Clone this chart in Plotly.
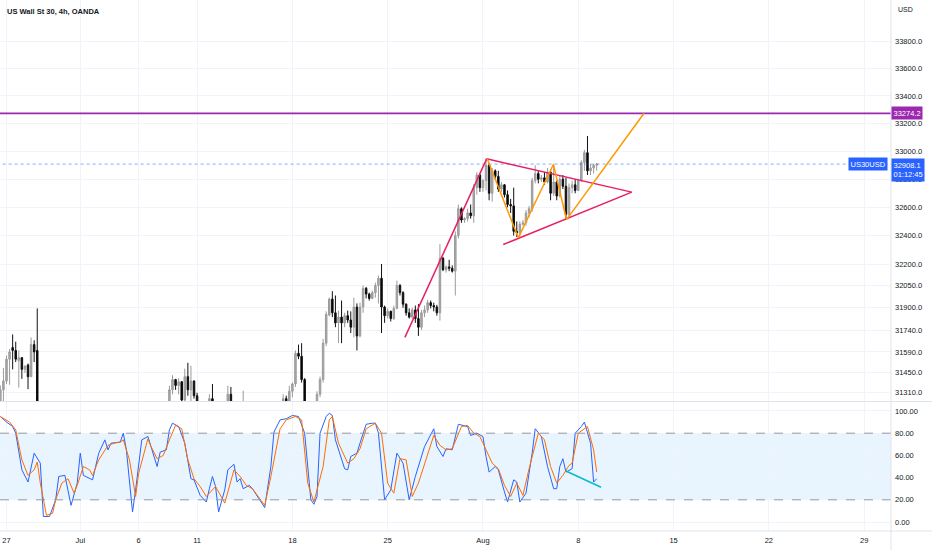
import datetime as dt
import math
import plotly.graph_objects as go

# ---------------- data ----------------
title_text = "US Wall St 30, 4h, OANDA"
symbol = "US30USD"
last_price = 32908.1
countdown = "01:12:45"
level_price = 33274.2
first_bar = dt.datetime(2022, 6, 24, 20)   # first candle on the chart (4h bars)

N = None
open_ = ([31180, 31330, 31390, 31540, 31620, 31600, 31530, 31550, 31470, 31500, 31420, 31640, 31600]
         + [N] * 42
         + [31210, 31330, 31400, 31360, 31385, 31260, 31420, 31330, 31390, 31290]
         + [N] * 3 + [31200, 31270] + [N] * 4 + [31200, 31300] + [N] * 3 + [31180] + [N] * 12
         + [31200, 31270, 31250, 31320, 31370, 31580, 31560, 31400] + [N] * 3
         + [31200, 31300, 31400, 31650, 31845, 31955, 31860, 31790, 31830, 31790,
            31840, 31810, 31760, 31900, 31700, 31900,
            32030, 31990, 31960, 32000, 32050, 32100, 31900,
            31840, 31870, 31820, 31890, 32050, 32000,
            31920, 31860, 31830, 31880, 31820, 31760,
            31860, 31880, 31930, 31910, 31900, 31860,
            32240, 32160, 32180, 32170, 32150, 32400,
            32590, 32510, 32520, 32560, 32540, 32740, 32830,
            32740, 32790, 32900, 32700, 32860, 32820,
            32730, 32760, 32690, 32620, 32610, 32430,
            32420, 32480, 32490, 32560, 32590, 32790,
            32840, 32800, 32810, 32780, 32850, 32700,
            32780, 32680, 32800, 32750, 32550, 32740, 32760,
            32720, 32790, 32920, 32990, 32860, 32880,
            32900])
high = ([31360, 31480, 31565, 31610, 31710, 31660, 31600, 31555, 31500, 31510, 31690, 31670, 31890]
        + [N] * 42
        + [31358, 31430, 31405, 31410, 31390, 31475, 31515, 31495, 31395, 31310]
        + [N] * 3 + [31300, 31370] + [N] * 4 + [31358, 31350] + [N] * 3 + [31324] + [N] * 12
        + [31300, 31290, 31358, 31380, 31600, 31640, 31650, 31410] + [N] * 3
        + [31320, 31420, 31680, 31870, 31965, 32010, 31980, 31875, 31945, 31860,
           31875, 31870, 31965, 31925, 31930, 32050,
           32040, 32000, 32014, 32070, 32120, 32200, 31910,
           31890, 31875, 31910, 32084, 32060, 32010,
           31925, 31890, 31895, 31910, 31920, 31880,
           31910, 31950, 31945, 31930, 31915, 32340,
           32250, 32190, 32230, 32190, 32430, 32620,
           32600, 32530, 32590, 32620, 32765, 32850, 32840,
           32800, 32950, 32915, 32880, 32870, 32860,
           32780, 32765, 32720, 32660, 32740, 32500,
           32500, 32510, 32580, 32610, 32810, 32900,
           32860, 32830, 32850, 32880, 32870, 32910,
           32790, 32830, 32830, 32810, 32770, 32790, 32800,
           32800, 32935, 33010, 33110, 32910, 32910,
           32915])
low = ([31150, 31240, 31370, 31365, 31470, 31520, 31345, 31405, 31445, 31335, 31420, 31520, 31100]
       + [N] * 42
       + [31190, 31300, 31330, 31300, 31220, 31230, 31290, 31240, 31270, 31200]
       + [N] * 3 + [31150, 31200] + [N] * 4 + [31150, 31200] + [N] * 3 + [31150] + [N] * 12
       + [31150, 31200, 31240, 31280, 31350, 31540, 31380, 31180] + [N] * 3
       + [31150, 31280, 31380, 31630, 31835, 31830, 31760, 31650, 31650, 31760,
          31790, 31720, 31690, 31600, 31690, 31860,
          31960, 31945, 31955, 31965, 31925, 31720, 31790,
          31820, 31800, 31810, 31885, 31980, 31895,
          31840, 31820, 31820, 31790, 31700, 31740,
          31830, 31860, 31890, 31870, 31840, 31806,
          32150, 32140, 32150, 32140, 31980, 32380,
          32490, 32490, 32500, 32520, 32490, 32690, 32710,
          32710, 32720, 32650, 32640, 32800, 32710,
          32710, 32670, 32600, 32560, 32400, 32390,
          32395, 32470, 32470, 32530, 32570, 32770,
          32770, 32780, 32760, 32770, 32650, 32680,
          32650, 32670, 32730, 32510, 32520, 32700, 32700,
          32715, 32780, 32860, 32830, 32830, 32840,
          32860])
close = ([31330, 31390, 31540, 31590, 31600, 31540, 31550, 31470, 31490, 31420, 31640, 31590, 31150]
         + [N] * 42
         + [31330, 31400, 31360, 31385, 31260, 31420, 31330, 31390, 31290, 31220]
         + [N] * 3 + [31270, 31240] + [N] * 4 + [31300, 31230] + [N] * 3 + [31220] + [N] * 12
         + [31270, 31250, 31320, 31370, 31580, 31560, 31400, 31220] + [N] * 3
         + [31300, 31400, 31650, 31850, 31955, 31860, 31790, 31830, 31790, 31840,
            31810, 31760, 31900, 31700, 31900, 32030,
            31990, 31960, 32000, 32050, 32100, 31900, 31840,
            31870, 31820, 31890, 32050, 32000, 31920,
            31860, 31830, 31880, 31820, 31760, 31860,
            31880, 31930, 31910, 31900, 31860, 32240,
            32160, 32180, 32170, 32150, 32400, 32590,
            32510, 32520, 32560, 32540, 32740, 32830, 32740,
            32790, 32900, 32700, 32860, 32820, 32730,
            32760, 32690, 32620, 32610, 32430, 32420,
            32480, 32490, 32560, 32590, 32790, 32840,
            32800, 32810, 32780, 32850, 32700, 32780,
            32680, 32800, 32750, 32550, 32740, 32760, 32720,
            32790, 32920, 32990, 32860, 32880, 32900,
            32908.1])

# Stochastic readings (bar number counted from 27 Jun 00:00, value)
k_bar = [-2, 0, 2, 3, 5, 7, 9, 11, 12, 14, 16, 17, 19, 21, 23, 24, 25, 28, 30, 32, 33, 34, 37, 38, 39,
         41, 42, 44, 46, 48, 49, 50, 52, 53, 54, 56, 58, 60, 61, 63, 65, 66, 67, 68, 69, 71, 72, 74,
         75, 76, 77, 79, 80, 84, 86, 87, 89, 91, 93, 95, 97, 99, 100, 101, 102, 104, 105, 106, 107,
         110, 111, 112, 114, 115, 117, 119, 120, 121, 123, 125, 127, 129, 131, 133, 136, 139, 140,
         142, 143, 145, 147, 150, 151, 153, 155, 156, 157, 159, 160, 162, 163, 165, 166, 167, 169,
         171, 172, 174, 176, 178, 179, 180, 181, 182, 184, 185, 187, 188, 190, 191, 192]
k_val = [95, 90, 86, 80, 47, 36, 62, 53, 5, 5, 20, 41, 42, 15, 35, 62, 42, 38, 62, 74, 65, 71, 72, 80, 65,
         9, 29, 74, 77, 60, 50, 63, 65, 83, 89, 86, 71, 39, 38, 24, 18, 30, 41, 32, 9, 29, 47, 52,
         36, 39, 30, 33, 30, 13, 50, 81, 92, 93, 96, 95, 80, 20, 16, 23, 80, 95, 98, 96, 74,
         48, 47, 59, 62, 71, 88, 89, 89, 80, 20, 29, 62, 53, 20, 41, 68, 84, 68,
         59, 66, 65, 88, 86, 78, 80, 77, 59, 45, 50, 47, 27, 18, 38, 36, 18, 26,
         62, 84, 77, 50, 30, 30, 50, 57, 45, 48, 80, 86, 90, 71, 36, 39]
d_bar = [-2, 1, 3, 5, 7, 9, 10, 11, 13, 15, 16, 18, 20, 22, 23, 25, 27, 28, 30, 33, 35, 37, 38, 40, 42,
         43, 46, 47, 49, 51, 53, 55, 57, 59, 61, 63, 65, 67, 68, 71, 73, 74, 76, 78, 80, 84, 86, 89,
         91, 94, 96, 98, 100, 103, 105, 106, 108, 111, 113, 115, 117, 120, 122, 124, 126, 128, 130,
         132, 134, 137, 139, 141, 143, 145, 148, 150, 152, 154, 156, 158, 160, 162, 164, 166, 168,
         170, 173, 175, 177, 179, 181, 183, 184, 186, 189, 191, 192]
d_val = [95, 90, 83, 56, 42, 47, 54, 35, 6, 8, 20, 35, 39, 26, 33, 50, 47, 42, 56, 69, 71, 72, 74, 56, 23,
         44, 75, 68, 57, 60, 74, 87, 84, 56, 39, 32, 23, 29, 32, 17, 38, 47, 41, 33, 30, 15, 41, 84,
         92, 95, 92, 35, 18, 50, 92, 95, 71, 53, 57, 66, 84, 89, 80, 35, 26, 57, 56,
         23, 35, 60, 78, 69, 65, 66, 86, 87, 80, 77, 65, 53, 48, 33, 23, 35, 24,
         48, 80, 74, 50, 35, 42, 51, 53, 80, 86, 65, 45]

# Drawings: (bar number, price) anchors
rise_line = ([129.6, 156.2], [31690, 32946])
tri_upper = ([156.2, 203.4], [32946, 32708])
tri_lower = ([161.6, 203.4], [32337, 32708])
zigzag = ([156.4, 166.5, 177.9, 182.2, 207.4], [32946, 32384, 32905, 32513, 33274.2])
stoch_div = ([182.0, 193.4], [45.9, 31.3])

price_ticks = [31310, 31450, 31590, 31740, 31900, 32050, 32200, 32400, 32600, 32800,
               33000, 33200, 33400, 33600, 33800]
stoch_ticks = [0, 20, 40, 60, 80, 100]
tick_dates = ["2022-06-27", "2022-07-01", "2022-07-06", "2022-07-11", "2022-07-18", "2022-07-25",
              "2022-08-01", "2022-08-08", "2022-08-15", "2022-08-22", "2022-08-29"]
tick_text = ["27", "Jul", "6", "11", "18", "25", "Aug", "8", "15", "22", "29"]

# ---------------- time scale (4h session bars, weekends removed) ----------------
def session_bars(start, end):
    out, d = [], start
    while d <= end:
        wd = d.weekday()
        if wd == 6:
            out.append(dt.datetime(d.year, d.month, d.day, 20))
        elif wd < 5:
            out.extend(dt.datetime(d.year, d.month, d.day, h) for h in range(0, 24, 4))
        d += dt.timedelta(days=1)
    return out

bars = session_bars(dt.date(2022, 6, 20), dt.date(2022, 9, 5))
origin = bars.index(dt.datetime(2022, 6, 27, 0))
def pos(t):
    return bars.index(t) - origin

x0 = pos(first_bar)
xs = [x0 + i for i in range(len(open_))]
tick_pos = [pos(dt.datetime.strptime(s, "%Y-%m-%d")) for s in tick_dates]

# ---------------- figure ----------------
W, H = 932, 550
ML, MR, MT, MB = 0, 41, 0, 19
PH = H - MT - MB
price_dom = [(PH - 401) / PH, 1]
stoch_dom = [0, (PH - 402) / PH]
x_range = [-2.115, 287.74]
p_range = [math.log10(31254), math.log10(34105)]
s_range = [-8.1, 108.1]

FONT = "Liberation Sans Narrow, Liberation Sans, Arial, sans-serif"
TXT = "#131722"
GRID = "#f0f3fa"
BORDER = "#e0e3eb"

fig = go.Figure()

# horizontal level and last-price line
fig.add_trace(go.Scatter(x=[x_range[0] - 5, x_range[1] + 5], y=[level_price, level_price],
                         mode="lines", line=dict(color="#9c27b0", width=1.8),
                         xaxis="x", yaxis="y", hoverinfo="skip", showlegend=False))
fig.add_trace(go.Scatter(x=[x_range[0] - 5, x_range[1] + 5], y=[last_price, last_price],
                         mode="lines", line=dict(color="rgba(41,98,255,0.55)", width=1, dash="dot"),
                         xaxis="x", yaxis="y", hoverinfo="skip", showlegend=False))

fig.add_trace(go.Candlestick(
    x=xs, open=open_, high=high, low=low, close=close,
    increasing=dict(line=dict(color="#9b9b9b", width=1), fillcolor="#a9a9a9"),
    decreasing=dict(line=dict(color="#111111", width=1), fillcolor="#000000"),
    whiskerwidth=0, xaxis="x", yaxis="y", hoverinfo="skip", showlegend=False))

for (lx, ly), col in [(rise_line, "#e91e63"), (tri_upper, "#e91e63"), (tri_lower, "#e91e63"),
                      (zigzag, "#ff9800")]:
    fig.add_trace(go.Scatter(x=lx, y=ly, mode="lines", line=dict(color=col, width=1.5),
                             xaxis="x", yaxis="y", hoverinfo="skip", showlegend=False))

# stochastic
fig.add_trace(go.Scatter(x=k_bar, y=k_val, mode="lines", line=dict(color="#2962ff", width=1),
                         xaxis="x2", yaxis="y2", hoverinfo="skip", showlegend=False))
fig.add_trace(go.Scatter(x=d_bar, y=d_val, mode="lines", line=dict(color="#ff6d00", width=1),
                         xaxis="x2", yaxis="y2", hoverinfo="skip", showlegend=False))
fig.add_trace(go.Scatter(x=stoch_div[0], y=stoch_div[1], mode="lines",
                         line=dict(color="#00bcd4", width=1.5),
                         xaxis="x2", yaxis="y2", hoverinfo="skip", showlegend=False))

shapes = [
    dict(type="rect", xref="x2 domain", yref="y2", x0=0, x1=1, y0=20, y1=80,
         fillcolor="rgba(33,150,243,0.1)", line=dict(width=0), layer="below"),
    dict(type="line", xref="x2 domain", yref="y2", x0=0, x1=1, y0=80, y1=80,
         line=dict(color="#9598a1", width=1, dash="dash")),
    dict(type="line", xref="x2 domain", yref="y2", x0=0, x1=1, y0=20, y1=20,
         line=dict(color="#9598a1", width=1, dash="dash")),
    dict(type="line", xref="paper", yref="paper", x0=0, x1=1.1, y0=(PH - 401.5) / PH,
         y1=(PH - 401.5) / PH, line=dict(color=BORDER, width=1)),
    dict(type="line", xref="paper", yref="paper", x0=0, x1=1.1, y0=0, y1=0,
         line=dict(color=BORDER, width=1)),
    dict(type="line", xref="paper", yref="paper", x0=1, x1=1, y0=-MB / PH, y1=1,
         line=dict(color=BORDER, width=1)),
]

annotations = [
    dict(xref="paper", yref="paper", x=0, y=1, xanchor="left", yanchor="middle",
         xshift=5, yshift=-11, text="<b>" + title_text + "</b>", showarrow=False,
         font=dict(family=FONT, size=7.5, color=TXT)),
    dict(xref="paper", yref="paper", x=1, y=1, xanchor="left", yanchor="middle",
         xshift=5, yshift=-9, text="USD", showarrow=False,
         font=dict(family=FONT, size=7, color=TXT)),
    dict(xref="paper", yref="y", x=1, y=math.log10(level_price), xanchor="left", yanchor="middle",
         xshift=0, text=f"{level_price:.1f}", showarrow=False, bgcolor="#9c27b0",
         borderpad=1.5, font=dict(family=FONT, size=7.5, color="white")),
    dict(xref="paper", yref="y", x=1, y=math.log10(last_price), xanchor="left", yanchor="top",
         yshift=6.5, text=f"{last_price:.1f}<br>{countdown}", showarrow=False, bgcolor="#2962ff",
         borderpad=1.5, align="left", font=dict(family=FONT, size=7.5, color="white")),
    dict(xref="paper", yref="y", x=1, y=math.log10(last_price), xanchor="right", yanchor="middle",
         xshift=-3, text=symbol, showarrow=False, bgcolor="#2962ff",
         borderpad=1.5, font=dict(family=FONT, size=7.5, color="white")),
]

axis_common = dict(showline=False, zeroline=False, gridcolor=GRID, gridwidth=1)

fig.update_layout(
    width=W, height=H, margin=dict(l=ML, r=MR, t=MT, b=MB),
    paper_bgcolor="white", plot_bgcolor="white",
    showlegend=False, hovermode=False,
    font=dict(family=FONT, size=7.5, color=TXT),
    xaxis=dict(domain=[0, 1], anchor="y", range=x_range, tickvals=tick_pos, ticktext=tick_text,
               showticklabels=False, rangeslider=dict(visible=False), **axis_common),
    xaxis2=dict(domain=[0, 1], anchor="y2", range=x_range, matches="x", tickvals=tick_pos,
                ticktext=tick_text, showticklabels=True, ticks="", ticklabelstandoff=3,
                tickfont=dict(family=FONT, size=7.5, color=TXT), **axis_common),
    yaxis=dict(domain=price_dom, anchor="x", type="log", range=p_range, side="right",
               tickvals=price_ticks, ticktext=[f"{v:.1f}" for v in price_ticks],
               ticks="", ticklabelstandoff=3,
               tickfont=dict(family=FONT, size=7.5, color=TXT), **axis_common),
    yaxis2=dict(domain=stoch_dom, anchor="x2", range=s_range, side="right",
                tickvals=stoch_ticks, ticktext=[f"{v:.2f}" for v in stoch_ticks],
                ticks="", ticklabelstandoff=3,
                tickfont=dict(family=FONT, size=7.5, color=TXT), **axis_common),
    shapes=shapes, annotations=annotations,
)

fig.write_html("out.html", config={"displayModeBar": False},
               post_script="document.body.style.margin='0';document.body.style.overflow='hidden';")
